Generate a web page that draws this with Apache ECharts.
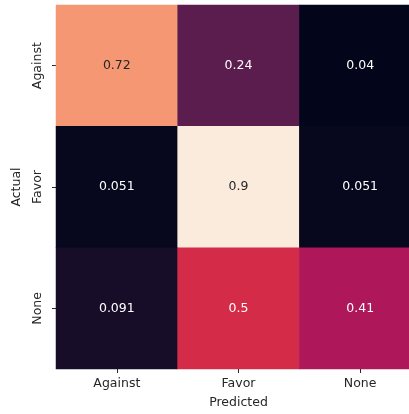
<!DOCTYPE html>
<html>
<head>
<meta charset="utf-8">
<script src="https://cdn.jsdelivr.net/npm/echarts@6/dist/echarts.min.js"></script>
<style>
  html, body { margin: 0; padding: 0; background: #ffffff; }
  #chart { width: 409px; height: 414px; }
</style>
</head>
<body>
<div id="chart"></div>
<script>
// Confusion matrix: rows are actual classes, columns are predicted classes
const predictedLabels = ['Against', 'Favor', 'None'];
const actualLabels = ['Against', 'Favor', 'None'];
const rowAgainst = [0.72, 0.24, 0.04];
const rowFavor = [0.051, 0.9, 0.051];
const rowNone = [0.091, 0.5, 0.41];
const matrixRows = [rowAgainst, rowFavor, rowNone];

// "rocket" colour ramp, evenly spaced stops from dark to light
const rocket = ['#03051a', '#35193e', '#701f57', '#ad1759', '#e13342', '#f37651', '#f6b48f', '#faebdd'];

const allValues = matrixRows.flat();
const vmin = Math.min(...allValues);
const vmax = Math.max(...allValues);

function hexToRgb(h) {
  return [1, 3, 5].map(i => parseInt(h.slice(i, i + 2), 16));
}
function colorAt(v) {
  const t = Math.max(0, Math.min(1, (v - vmin) / (vmax - vmin))) * (rocket.length - 1);
  const i = Math.min(rocket.length - 2, Math.floor(t));
  const f = t - i;
  const a = hexToRgb(rocket[i]), b = hexToRgb(rocket[i + 1]);
  return a.map((c, k) => c + (b[k] - c) * f);
}
function luminance(rgb) {
  const lin = rgb.map(c => {
    c /= 255;
    return c <= 0.03928 ? c / 12.92 : Math.pow((c + 0.055) / 1.055, 2.4);
  });
  return 0.2126 * lin[0] + 0.7152 * lin[1] + 0.0722 * lin[2];
}

const cells = [];
matrixRows.forEach((row, r) => {
  row.forEach((v, c) => {
    const light = luminance(colorAt(v)) > 0.408;
    cells.push({
      value: [c, r, v],
      label: { color: light ? '#262626' : '#ffffff' }
    });
  });
});

const font = 'DejaVu Sans';
const chart = echarts.init(document.getElementById('chart'), null, { renderer: 'canvas' });
chart.setOption({
  animation: false,
  backgroundColor: '#ffffff',
  grid: { left: 56, top: 5, width: 365, height: 364, outerBoundsMode: 'none', containLabel: false },
  xAxis: {
    type: 'category',
    data: predictedLabels,
    name: 'Predicted',
    nameLocation: 'middle',
    nameGap: 27,
    nameTextStyle: { fontFamily: font, fontSize: 12.5, color: '#262626' },
    axisLine: { show: false },
    axisTick: { show: true, alignWithLabel: true, length: 4, lineStyle: { color: '#262626', width: 1 } },
    axisLabel: { fontFamily: font, fontSize: 12.5, color: '#262626', margin: 8 },
    splitLine: { show: false },
    splitArea: { show: false }
  },
  yAxis: {
    type: 'category',
    data: actualLabels,
    inverse: true,
    name: 'Actual',
    nameLocation: 'middle',
    nameRotate: 90,
    nameGap: 31,
    nameTextStyle: { fontFamily: font, fontSize: 12.5, color: '#262626' },
    axisLine: { show: false },
    axisTick: { show: true, alignWithLabel: true, length: 4, lineStyle: { color: '#262626', width: 1 } },
    axisLabel: { fontFamily: font, fontSize: 12.5, color: '#262626', rotate: 90, margin: 12 },
    splitLine: { show: false },
    splitArea: { show: false }
  },
  visualMap: {
    show: false,
    min: vmin,
    max: vmax,
    dimension: 2,
    inRange: { color: rocket }
  },
  series: [{
    type: 'heatmap',
    data: cells,
    label: {
      show: true,
      fontFamily: font,
      fontSize: 12.5,
      formatter: p => String(p.value[2])
    },
    itemStyle: { borderWidth: 0 },
    emphasis: { disabled: true }
  }]
});
</script>
</body>
</html>
